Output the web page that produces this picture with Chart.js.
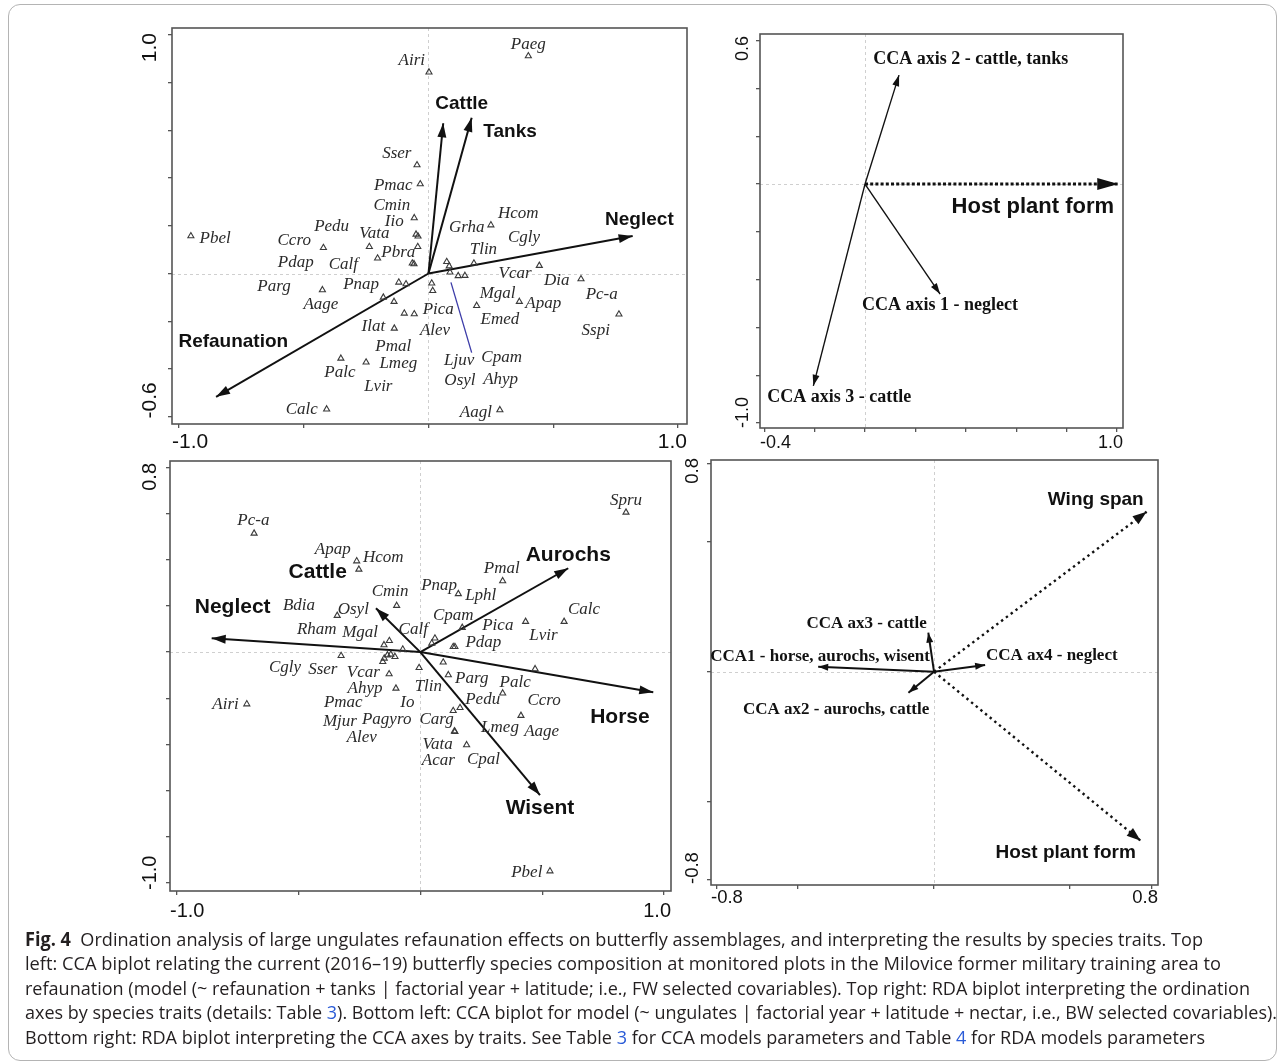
<!DOCTYPE html>
<html><head><meta charset="utf-8">
<script src="https://cdn.jsdelivr.net/npm/chart.js@4.4.1/dist/chart.umd.min.js"></script>
<style>
html,body{margin:0;padding:0;background:#fff;}
body{width:1284px;height:1064px;position:relative;overflow:hidden;}
canvas{position:absolute;}
#frame{position:absolute;left:8px;top:4px;width:1269px;height:1057px;border:1px solid #b4b4b4;border-radius:12px;box-sizing:border-box;}
#cap{position:absolute;left:25px;top:927px;font-family:"Open Sans",sans-serif;font-size:19px;line-height:24.4px;color:#231f20;white-space:nowrap;}
.ln{display:block;transform-origin:0 0;width:max-content;}
.lk{color:#2a5bd7;}
</style></head><body>
<div id="frame"></div>
<canvas id="cTL"></canvas>
<canvas id="cTR"></canvas>
<canvas id="cBL"></canvas>
<canvas id="cBR"></canvas>
<div id="cap">
<div class="ln" data-w="1178"><b>Fig. 4</b>&nbsp; Ordination analysis of large ungulates refaunation effects on butterfly assemblages, and interpreting the results by species traits. Top</div>
<div class="ln" data-w="1196">left: CCA biplot relating the current (2016–19) butterfly species composition at monitored plots in the Milovice former military training area to</div>
<div class="ln" data-w="1225">refaunation (model (~ refaunation + tanks | factorial year + latitude; i.e., FW selected covariables). Top right: RDA biplot interpreting the ordination</div>
<div class="ln" data-w="1252">axes by species traits (details: Table <span class="lk">3</span>). Bottom left: CCA biplot for model (~ ungulates | factorial year + latitude + nectar, i.e., BW selected covariables).</div>
<div class="ln" data-w="1180">Bottom right: RDA biplot interpreting the CCA axes by traits. See Table <span class="lk">3</span> for CCA models parameters and Table <span class="lk">4</span> for RDA models parameters</div>
</div>
<script>
// ---------------- DATA ----------------
// Top-left: CCA biplot (species triangles)
const TL_SP_X = [0.002,0.400,-0.046,-0.033,-0.057,-0.050,-0.042,-0.421,-0.952,-0.237,-0.043,-0.204,-0.065,-0.058,-0.425,-0.119,-0.090,-0.181,-0.138,-0.097,-0.057,-0.137,-0.351,-0.250,-0.408,0.250,0.182,0.073,0.083,0.086,0.119,0.146,0.444,0.611,0.013,0.017,0.193,0.364,0.763,0.286];
const TL_SP_Y = [0.844,0.912,0.455,0.375,0.233,0.164,0.156,0.108,0.157,0.112,0.112,0.064,0.043,0.040,-0.069,-0.037,-0.044,-0.100,-0.118,-0.167,-0.170,-0.230,-0.356,-0.372,-0.569,0.203,0.043,0.049,0.031,0.005,-0.010,-0.009,0.033,-0.023,-0.041,-0.072,-0.135,-0.118,-0.171,-0.572];
const TL_LAB = ["Airi","Paeg","Sser","Pmac","Cmin","Iio","Vata","Pedu","Ccro","Pbel","Pbra","Pdap","Calf","Parg","Pnap","Aage","Ilat","Pmal","Lmeg","Palc","Lvir","Calc","Hcom","Grha","Cgly","Tlin","Vcar","Dia","Mgal","Apap","Pc-a","Sspi","Pica","Alev","Emed","Ljuv","Cpam","Osyl","Ahyp","Aagl"];
const TL_LAB_X = [-0.067,0.400,-0.127,-0.141,-0.147,-0.137,-0.217,-0.388,-0.538,-0.855,-0.121,-0.532,-0.341,-0.619,-0.270,-0.431,-0.221,-0.141,-0.121,-0.355,-0.201,-0.508,0.360,0.153,0.383,0.220,0.347,0.514,0.277,0.460,0.694,0.670,0.039,0.026,0.286,0.123,0.293,0.126,0.289,0.190];
const TL_LAB_Y = [0.892,0.962,0.504,0.368,0.284,0.217,0.169,0.196,0.138,0.145,0.089,0.047,0.036,-0.055,-0.048,-0.132,-0.223,-0.307,-0.379,-0.416,-0.472,-0.572,0.252,0.192,0.152,0.099,0.001,-0.030,-0.086,-0.125,-0.087,-0.237,-0.150,-0.237,-0.195,-0.366,-0.351,-0.447,-0.444,-0.584];
const TL_ENV = ["Refaunation","Cattle","Tanks","Neglect"];
const TL_ENV_X = [-0.851,0.059,0.173,0.818];
const TL_ENV_Y = [-0.517,0.630,0.653,0.157];
const TL_ENV_LAB_X = [-0.782,0.133,0.327,0.845];
const TL_ENV_LAB_Y = [-0.286,0.711,0.595,0.227];
const TL_LINK_X = [0.090,0.173];
const TL_LINK_Y = [-0.037,-0.332];
const TL_XTICKS = [-1.0,-0.5,0,0.5,1.0];
const TL_YTICKS = [-0.6,-0.4,-0.2,0,0.2,0.4,0.6,0.8,1.0];
const TL_XTICK_LBL = ["-1.0","1.0"];
const TL_YTICK_LBL = ["-0.6","1.0"];

// Top-right: RDA biplot of traits
const TR_VEC = ["CCA axis 2 - cattle, tanks","CCA axis 1 - neglect","CCA axis 3 - cattle","Host plant form"];
const TR_VEC_X = [0.135,0.298,-0.205,1.005];
const TR_VEC_Y = [0.456,-0.460,-0.844,0.0];
const TR_LAB_X = [0.420,0.298,-0.102,0.666];
const TR_LAB_Y = [0.522,-0.509,-0.892,-0.097];
const TR_XTICKS = [-0.4,-0.2,0,0.2,0.4,0.6,0.8,1.0];
const TR_YTICKS = [-1.0,-0.8,-0.6,-0.4,-0.2,0,0.2,0.4,0.6];
const TR_XTICK_LBL = ["-0.4","1.0"];
const TR_YTICK_LBL = ["-1.0","0.6"];

// Bottom-left: CCA biplot (ungulates)
const BL_SP_X = [-0.682,-0.261,-0.252,-0.097,-0.341,-0.149,-0.127,-0.072,-0.325,-0.135,-0.121,-0.104,-0.154,-0.148,-0.005,-0.128,-0.100,-0.712,0.844,0.338,0.156,0.590,0.172,0.432,0.135,0.142,0.060,0.047,0.471,0.094,0.115,0.338,0.135,0.163,0.413,0.140,0.142,0.190,0.532];
const BL_SP_Y = [0.514,0.394,0.358,0.201,0.158,0.031,0.049,0.012,-0.016,-0.013,-0.010,-0.020,-0.042,-0.027,-0.068,-0.095,-0.157,-0.225,0.605,0.308,0.252,0.132,0.106,0.132,0.023,0.023,0.060,0.038,-0.073,-0.044,-0.099,-0.178,-0.254,-0.241,-0.275,-0.342,-0.345,-0.402,-0.948];
const BL_LAB = ["Pc-a","Apap","Hcom","Cmin","Bdia","Osyl","Rham","Mgal","Calf","Cgly","Sser","Vcar","Ahyp","Pmac","Io","Airi","Mjur","Pagyro","Alev","Spru","Pmal","Pnap","Lphl","Calc","Cpam","Pica","Lvir","Pdap","Parg","Palc","Tlin","Pedu","Ccro","Carg","Lmeg","Aage","Vata","Acar","Cpal","Pbel"];
const BL_LAB_X = [-0.685,-0.359,-0.152,-0.124,-0.498,-0.275,-0.425,-0.247,-0.029,-0.555,-0.400,-0.234,-0.227,-0.316,-0.053,-0.799,-0.330,-0.138,-0.240,0.844,0.334,0.077,0.248,0.672,0.135,0.318,0.505,0.259,0.211,0.389,0.033,0.256,0.508,0.067,0.327,0.498,0.071,0.074,0.259,0.437];
const BL_LAB_Y = [0.569,0.442,0.410,0.261,0.201,0.185,0.096,0.084,0.096,-0.066,-0.074,-0.087,-0.157,-0.219,-0.219,-0.229,-0.301,-0.291,-0.369,0.655,0.363,0.290,0.247,0.185,0.158,0.113,0.071,0.042,-0.116,-0.131,-0.147,-0.204,-0.210,-0.294,-0.327,-0.342,-0.399,-0.470,-0.463,-0.955];
const BL_ENV = ["Neglect","Cattle","Aurochs","Horse","Wisent"];
const BL_ENV_X = [-0.856,-0.182,0.607,0.956,0.491];
const BL_ENV_Y = [0.060,0.190,0.363,-0.174,-0.619];
const BL_ENV_LAB_X = [-0.770,-0.421,0.607,0.819,0.491];
const BL_ENV_LAB_Y = [0.194,0.344,0.420,-0.280,-0.676];
const BL_XTICKS = [-1.0,-0.5,0,0.5,1.0];
const BL_YTICKS = [-1.0,-0.8,-0.6,-0.4,-0.2,0,0.2,0.4,0.6,0.8];
const BL_XTICK_LBL = ["-1.0","1.0"];
const BL_YTICK_LBL = ["-1.0","0.8"];

// Bottom-right: RDA biplot of traits
const BR_VEC = ["CCA1 - horse, aurochs, wisent","CCA ax3 - cattle","CCA ax4 - neglect","CCA ax2 - aurochs, cattle","Wing span","Host plant form"];
const BR_VEC_X = [-0.426,-0.021,0.188,-0.094,0.782,0.760];
const BR_VEC_Y = [0.019,0.150,0.026,-0.081,0.615,-0.650];
const BR_LAB_X = [-0.419,-0.248,0.433,-0.360,0.595,0.484];
const BR_LAB_Y = [0.058,0.186,0.062,-0.147,0.660,-0.698];
const BR_XTICKS = [-0.8,-0.5,0,0.5,0.8];
const BR_YTICKS = [-0.8,-0.5,0,0.5,0.8];
const BR_XTICK_LBL = ["-0.8","0.8"];
const BR_YTICK_LBL = ["-0.8","0.8"];

// ---------------- DRAWING ----------------
const SPECIES_FONT = 'italic 17px "Liberation Serif"';

const biplot = {
  id: 'biplot',
  beforeDatasetsDraw(chart, args, o) {
    const {ctx, chartArea: ca, scales: {x, y}} = chart;
    ctx.save();
    ctx.strokeStyle = '#cfcfcf'; ctx.lineWidth = 1; ctx.setLineDash([3, 3]);
    const x0 = Math.round(x.getPixelForValue(0)) + 0.5, y0 = Math.round(y.getPixelForValue(0)) + 0.5;
    ctx.beginPath();
    ctx.moveTo(ca.left, y0); ctx.lineTo(ca.right, y0);
    ctx.moveTo(x0, ca.top); ctx.lineTo(x0, ca.bottom);
    ctx.stroke();
    ctx.restore();
  },
  afterDatasetsDraw(chart, args, o) {
    const {ctx, chartArea: ca, scales: {x, y}} = chart;
    ctx.save();
    // arrowheads
    chart.data.datasets.forEach((ds, i) => {
      if (!ds.head) return;
      const m = chart.getDatasetMeta(i);
      const p0 = m.data[0], p1 = m.data[1];
      const a = Math.atan2(p1.y - p0.y, p1.x - p0.x);
      const L = ds.head[0], W = ds.head[1] / 2;
      const bx = p1.x - L * Math.cos(a), by = p1.y - L * Math.sin(a);
      ctx.setLineDash([]);
      ctx.fillStyle = ds.borderColor;
      ctx.beginPath();
      ctx.moveTo(p1.x, p1.y);
      ctx.lineTo(bx + W * Math.sin(a), by - W * Math.cos(a));
      ctx.lineTo(bx - W * Math.sin(a), by + W * Math.cos(a));
      ctx.closePath(); ctx.fill();
    });
    // frame
    ctx.setLineDash([]);
    ctx.strokeStyle = '#555'; ctx.lineWidth = 1.6;
    ctx.strokeRect(ca.left, ca.top, ca.right - ca.left, ca.bottom - ca.top);
    // labels
    ctx.textAlign = 'center'; ctx.textBaseline = 'middle';
    o.labels.forEach(l => {
      ctx.font = l.font; ctx.fillStyle = l.color;
      ctx.fillText(l.text, x.getPixelForValue(l.x), y.getPixelForValue(l.y));
    });
    // tick labels (only extremes, aligned inward like the original)
    const f = o.tick;
    ctx.font = f.size + 'px "Liberation Sans"'; ctx.fillStyle = '#111';
    ctx.textBaseline = 'middle';
    ctx.textAlign = 'left';
    ctx.fillText(o.xLbl[0], ca.left, ca.bottom + f.xOff);
    ctx.textAlign = 'right';
    ctx.fillText(o.xLbl[1], ca.right, ca.bottom + f.xOff);
    ctx.save();
    ctx.translate(ca.left - f.yOff, ca.bottom - f.yBot);
    ctx.rotate(-Math.PI / 2);
    ctx.textAlign = 'left';
    ctx.fillText(o.yLbl[0], 0, 0);
    ctx.restore();
    ctx.save();
    ctx.translate(ca.left - f.yOff, ca.top + f.yTop);
    ctx.rotate(-Math.PI / 2);
    ctx.textAlign = 'right';
    ctx.fillText(o.yLbl[1], 0, 0);
    ctx.restore();
    ctx.restore();
  }
};

function speciesSet(xs, ys) {
  return {data: xs.map((v, i) => ({x: v, y: ys[i]})), pointStyle: 'triangle', pointRadius: 3.5,
    pointBorderWidth: 1.1, pointBorderColor: '#3a3a3a', pointBackgroundColor: 'rgba(0,0,0,0)', showLine: false};
}
function arrowSet(tx, ty, width, head, dash, color) {
  return {data: [{x: 0, y: 0}, {x: tx, y: ty}], showLine: true, pointRadius: 0, borderWidth: width,
    borderColor: color || '#111', borderDash: dash || [], borderCapStyle: 'butt', head: head, fill: false};
}
function labelList(names, xs, ys, font, color) {
  return names.map((t, i) => ({text: t, x: xs[i], y: ys[i], font: font, color: color}));
}

function makePanel(id, box, xr, yr, xTicks, yTicks, xLbl, yLbl, tick, datasets, labels) {
  const ML = 45, MT = 14, MR = 12, MB = 40, TK = 4;
  const cv = document.getElementById(id);
  const W = box[2] - box[0], H = box[3] - box[1];
  cv.width = W + ML + MR; cv.height = H + MT + MB;
  cv.style.left = (box[0] - ML) + 'px'; cv.style.top = (box[1] - MT) + 'px';
  cv.style.width = cv.width + 'px'; cv.style.height = cv.height + 'px';
  const axis = (r, t) => ({
    type: 'linear', min: r[0], max: r[1],
    afterBuildTicks: s => { s.ticks = t.map(v => ({value: v})); },
    ticks: {display: false},
    grid: {display: true, drawOnChartArea: false, drawTicks: true, tickLength: TK, color: '#555', lineWidth: 1.3},
    border: {display: false}
  });
  new Chart(cv, {
    type: 'scatter',
    data: {datasets: datasets},
    options: {
      responsive: false, animation: false, devicePixelRatio: 1, events: [],
      layout: {padding: {left: ML - TK, top: MT, right: MR, bottom: MB - TK}},
      plugins: {legend: {display: false}, tooltip: {enabled: false},
        biplot: {labels: labels, xLbl: xLbl, yLbl: yLbl, tick: tick}},
      scales: {x: axis(xr, xTicks), y: axis(yr, yTicks)}
    },
    plugins: [biplot]
  });
}

// Top-left
makePanel('cTL', [172, 28, 687, 424], [-1.0276, 1.0357], [-0.6310, 1.0294], TL_XTICKS, TL_YTICKS, TL_XTICK_LBL, TL_YTICK_LBL,
  {size: 21, xOff: 18.5, yOff: 21.5, yTop: 5, yBot: 5.5},
  [speciesSet(TL_SP_X, TL_SP_Y),
   {data: [{x: TL_LINK_X[0], y: TL_LINK_Y[0]}, {x: TL_LINK_X[1], y: TL_LINK_Y[1]}], showLine: true, pointRadius: 0, borderWidth: 1.3, borderColor: '#3c3ca8'},
   ...TL_ENV_X.map((v, i) => arrowSet(v, TL_ENV_Y[i], 2, [14, 9]))],
  [...labelList(TL_LAB, TL_LAB_X, TL_LAB_Y, SPECIES_FONT, '#2b2b2b'),
   ...labelList(TL_ENV, TL_ENV_LAB_X, TL_ENV_LAB_Y, 'bold 19px "Liberation Sans"', '#111')]);

// Top-right
makePanel('cTR', [760, 34, 1123, 428], [-0.4167, 1.0238], [-1.0205, 0.6280], TR_XTICKS, TR_YTICKS, TR_XTICK_LBL, TR_YTICK_LBL,
  {size: 18, xOff: 15, yOff: 16.5, yTop: 2, yBot: 0},
  [arrowSet(TR_VEC_X[0], TR_VEC_Y[0], 1.4, [11, 7]),
   arrowSet(TR_VEC_X[1], TR_VEC_Y[1], 1.4, [11, 7]),
   arrowSet(TR_VEC_X[2], TR_VEC_Y[2], 1.4, [11, 7]),
   arrowSet(TR_VEC_X[3], TR_VEC_Y[3], 3, [21, 12], [3, 2.2])],
  [...labelList(TR_VEC.slice(0, 3), TR_LAB_X, TR_LAB_Y, 'bold 18px "Liberation Serif"', '#111'),
   {text: TR_VEC[3], x: TR_LAB_X[3], y: TR_LAB_Y[3], font: 'bold 22px "Liberation Sans"', color: '#111'}]);

// Bottom-left
makePanel('cBL', [170, 461, 671, 891], [-1.0271, 1.0287], [-1.0342, 0.8273], BL_XTICKS, BL_YTICKS, BL_XTICK_LBL, BL_YTICK_LBL,
  {size: 20, xOff: 20, yOff: 19.5, yTop: 2, yBot: 1},
  [speciesSet(BL_SP_X, BL_SP_Y),
   ...BL_ENV_X.map((v, i) => arrowSet(v, BL_ENV_Y[i], 2, [14, 9]))],
  [...labelList(BL_LAB, BL_LAB_X, BL_LAB_Y, SPECIES_FONT, '#2b2b2b'),
   ...labelList(BL_ENV, BL_ENV_LAB_X, BL_ENV_LAB_Y, 'bold 21px "Liberation Sans"', '#111')]);

// Bottom-right
makePanel('cBR', [711, 460, 1158, 885], [-0.8202, 0.8238], [-0.8204, 0.8142], BR_XTICKS, BR_YTICKS, BR_XTICK_LBL, BR_YTICK_LBL,
  {size: 18.5, xOff: 13.3, yOff: 18, yTop: -2, yBot: 1},
  [arrowSet(BR_VEC_X[0], BR_VEC_Y[0], 2, [10, 7]),
   arrowSet(BR_VEC_X[1], BR_VEC_Y[1], 2, [10, 7]),
   arrowSet(BR_VEC_X[2], BR_VEC_Y[2], 2, [10, 7]),
   arrowSet(BR_VEC_X[3], BR_VEC_Y[3], 2, [10, 7]),
   arrowSet(BR_VEC_X[4], BR_VEC_Y[4], 2.4, [14, 10], [2.4, 3.6]),
   arrowSet(BR_VEC_X[5], BR_VEC_Y[5], 2.4, [14, 10], [2.4, 3.6])],
  [...labelList(BR_VEC.slice(0, 4), BR_LAB_X, BR_LAB_Y, 'bold 17px "Liberation Serif"', '#111'),
   ...labelList(BR_VEC.slice(4), BR_LAB_X.slice(4), BR_LAB_Y.slice(4), 'bold 19px "Liberation Sans"', '#111')]);

// caption line fitting
function fitCaption() {
  document.querySelectorAll('#cap .ln').forEach(el => {
    el.style.transform = 'none';
    const w = el.getBoundingClientRect().width;
    const t = parseFloat(el.dataset.w);
    el.style.transform = 'scaleX(' + (t / w) + ')';
  });
}
if (document.fonts && document.fonts.ready) document.fonts.ready.then(fitCaption); else fitCaption();
fitCaption();
</script>
</body></html>
